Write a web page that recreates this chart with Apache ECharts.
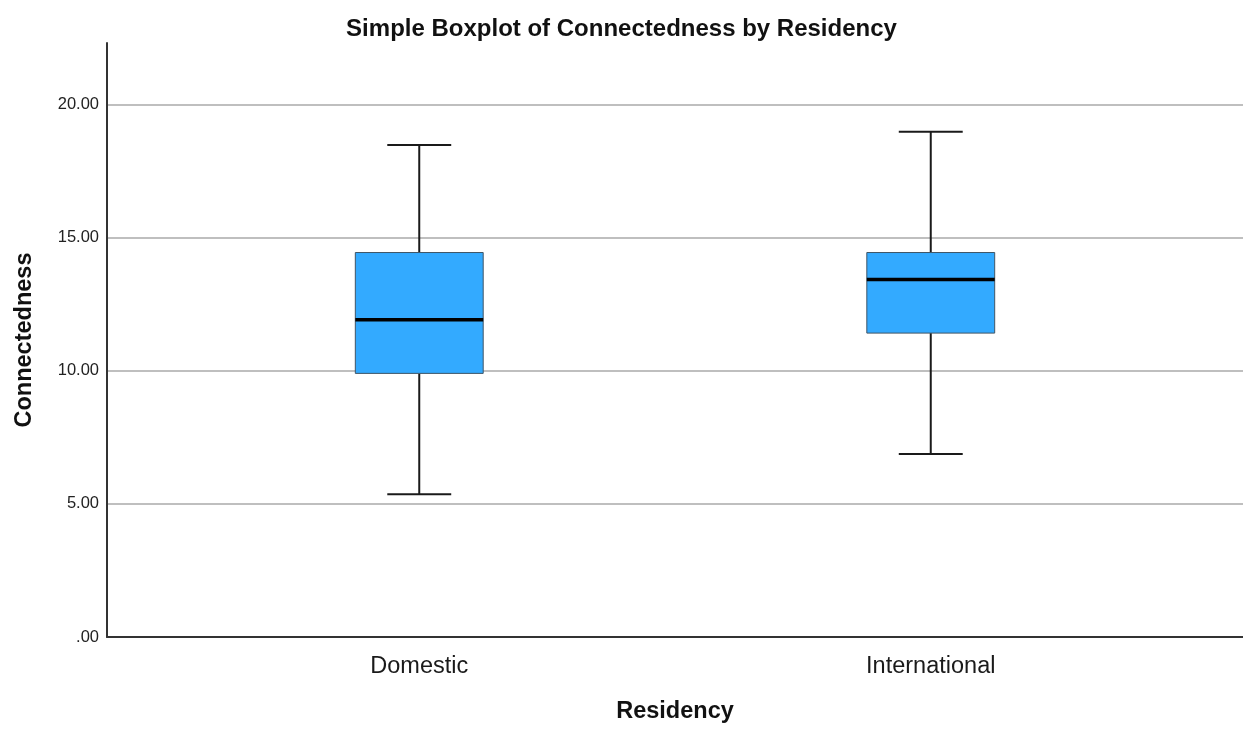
<!DOCTYPE html>
<html>
<head>
<meta charset="utf-8">
<script src="https://cdn.jsdelivr.net/npm/echarts@6/dist/echarts.min.js"></script>
<style>
  html, body { margin: 0; padding: 0; background: #fff; }
  #chart { width: 1243px; height: 729px; }
</style>
</head>
<body>
<div id="chart"></div>
<script>
// Residency groups and five-number summaries of Connectedness
const categories = ['Domestic', 'International'];
const whiskerLow = [5.5, 7.0];
const quartile1 = [10.0, 11.5];
const medians = [12.0, 13.5];
const quartile3 = [14.5, 14.5];
const whiskerHigh = [18.5, 19.0];
const yTicks = [0, 5, 10, 15, 20];

const FONT = '"Liberation Sans", Arial, sans-serif';
const Y_MIN = 0, Y_MAX = 22.3;

const boxData = categories.map((c, i) => [i, whiskerLow[i], quartile1[i], medians[i], quartile3[i], whiskerHigh[i]]);

function renderBox(params, api) {
  const x = api.value(0);
  const band = api.size([1, 0])[0];
  const boxW = band * 0.25;
  const capW = band * 0.125;
  const pLow = api.coord([x, api.value(1)]);
  const pQ1 = api.coord([x, api.value(2)]);
  const pMed = api.coord([x, api.value(3)]);
  const pQ3 = api.coord([x, api.value(4)]);
  const pHigh = api.coord([x, api.value(5)]);
  const cx = pQ1[0];
  const whisker = { stroke: '#1a1a1a', lineWidth: 2 };
  return {
    type: 'group',
    children: [
      { type: 'line', shape: { x1: cx, y1: pQ1[1], x2: cx, y2: pLow[1] }, style: whisker },
      { type: 'line', shape: { x1: cx, y1: pQ3[1], x2: cx, y2: pHigh[1] }, style: whisker },
      { type: 'line', shape: { x1: cx - capW / 2, y1: pLow[1], x2: cx + capW / 2, y2: pLow[1] }, style: whisker },
      { type: 'line', shape: { x1: cx - capW / 2, y1: pHigh[1], x2: cx + capW / 2, y2: pHigh[1] }, style: whisker },
      { type: 'rect', shape: { x: cx - boxW / 2, y: pQ3[1], width: boxW, height: pQ1[1] - pQ3[1] },
        style: { fill: '#33aaff', stroke: '#3f5566', lineWidth: 1 } },
      { type: 'line', shape: { x1: cx - boxW / 2, y1: pMed[1], x2: cx + boxW / 2, y2: pMed[1] },
        style: { stroke: '#000', lineWidth: 3.5 } }
    ]
  };
}

const chart = echarts.init(document.getElementById('chart'), null, { renderer: 'canvas' });
chart.setOption({
  animation: false,
  backgroundColor: '#fff',
  title: {
    text: 'Simple Boxplot of Connectedness by Residency',
    left: 'center', top: 12,
    textStyle: { fontFamily: FONT, fontSize: 24, fontWeight: 'bold', color: '#111' }
  },
  grid: [
    { left: 107, right: 0, top: 43, bottom: 87 },
    { left: 163.5, right: 56.5, top: 43, bottom: 87 }
  ],
  xAxis: [
    {
      gridIndex: 0, type: 'value', min: 0, max: 1,
      name: 'Residency', nameLocation: 'middle', nameGap: 63,
      nameTextStyle: { fontFamily: FONT, fontSize: 23.5, fontWeight: 'bold', color: '#111' },
      axisLine: { show: true, lineStyle: { color: '#333', width: 2 } },
      axisTick: { show: false }, axisLabel: { show: false }, splitLine: { show: false }
    },
    {
      gridIndex: 1, type: 'category', data: categories, boundaryGap: true,
      axisLine: { show: false }, axisTick: { show: false }, splitLine: { show: false },
      axisLabel: { fontFamily: FONT, fontSize: 23.5, color: '#1a1a1a', margin: 13 }
    }
  ],
  yAxis: [
    {
      gridIndex: 0, type: 'value', min: Y_MIN, max: Y_MAX, interval: 5,
      name: 'Connectedness', nameLocation: 'middle', nameGap: 70, nameRotate: 90,
      nameTextStyle: { fontFamily: FONT, fontSize: 23.5, fontWeight: 'bold', color: '#111' },
      axisLine: { show: true, lineStyle: { color: '#333', width: 2 } },
      axisTick: { show: false },
      axisLabel: {
        fontFamily: FONT, fontSize: 16.5, color: '#222', margin: 8, showMaxLabel: false,
        formatter: v => yTicks.includes(v) ? (v === 0 ? '.00' : v.toFixed(2)) : ''
      },
      splitLine: { show: true, showMinLine: false, showMaxLine: false, lineStyle: { color: '#aaa', width: 1.5 } }
    },
    {
      gridIndex: 1, type: 'value', min: Y_MIN, max: Y_MAX, show: false,
      splitLine: { show: false }
    }
  ],
  series: [
    {
      type: 'custom', xAxisIndex: 1, yAxisIndex: 1,
      renderItem: renderBox,
      data: boxData,
      encode: { x: 0, y: [1, 2, 3, 4, 5] },
      z: 10
    }
  ]
});
</script>
</body>
</html>
